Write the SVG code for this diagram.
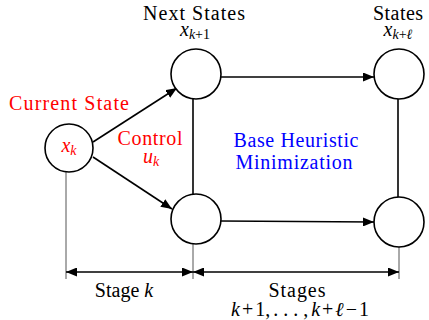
<svg xmlns="http://www.w3.org/2000/svg" width="429" height="320" viewBox="0 0 429 320">
<defs>
<marker id="ah2" viewBox="0 0 10 10" refX="10" refY="5" markerWidth="11" markerHeight="9" orient="auto-start-reverse" markerUnits="userSpaceOnUse" preserveAspectRatio="none">
<path d="M0,0 L10,5 L0,10 z" fill="#000"/>
</marker>
</defs>
<style>
.red{fill:#ff0000}
.blue{fill:#0000ff}
.it{font-style:italic}
.sub{font-size:14px;font-style:italic}
.subr{font-size:14px}
.node{fill:#fff;stroke:#000;stroke-width:1.6}
.edge{stroke:#000;stroke-width:1.6;fill:none}
.ext{stroke:#555;stroke-width:1;fill:none}
</style>
<rect width="429" height="320" fill="#fff"/>
<g id="connectors">
<line class="edge" x1="93" y1="142" x2="177" y2="88" marker-end="url(#ah2)"/>
<line class="edge" x1="93" y1="157" x2="172" y2="209" marker-end="url(#ah2)"/>
<line class="edge" x1="221" y1="77" x2="374" y2="77" marker-end="url(#ah2)"/>
<line class="edge" x1="221" y1="221" x2="374" y2="222" marker-end="url(#ah2)"/>
<line class="edge" x1="193" y1="99" x2="193" y2="195"/>
<line class="edge" x1="398" y1="99" x2="398" y2="198"/>
<line class="ext" x1="66" y1="172" x2="66" y2="279"/>
<line class="ext" x1="193" y1="244" x2="193" y2="279"/>
<line class="ext" x1="399" y1="247" x2="399" y2="279"/>
<line class="edge" x1="66" y1="272" x2="193" y2="272" marker-start="url(#ah2)" marker-end="url(#ah2)"/>
<line class="edge" x1="193" y1="272" x2="399" y2="272" marker-start="url(#ah2)" marker-end="url(#ah2)"/>
</g>
<g id="current">
<circle class="node" cx="69" cy="148" r="24"/>
<text x="69" y="152" class="red" font-family="Liberation Serif" font-size="20" text-anchor="middle"><tspan class="it">x</tspan><tspan class="sub" dy="3">k</tspan></text>
</g>
<g id="next-top">
<circle class="node" cx="196" cy="74" r="25"/>
</g>
<g id="next-bottom">
<circle class="node" cx="196" cy="219" r="25"/>
</g>
<g id="end-top">
<circle class="node" cx="399" cy="74" r="25"/>
</g>
<g id="end-bottom">
<circle class="node" cx="399" cy="222" r="25"/>
</g>
<g id="labels" font-family="Liberation Serif" font-size="20" text-anchor="middle">
<text x="69" y="110" class="red" font-family="Liberation Serif" textLength="120">Current State</text>
<text x="150" y="145" class="red" font-family="Liberation Serif" textLength="65">Control</text>
<text x="151" y="163" class="red" font-family="Liberation Serif"><tspan class="it">u</tspan><tspan class="sub" dy="3">k</tspan></text>
<text x="296" y="147" class="blue" font-family="Liberation Serif" textLength="125">Base Heuristic</text>
<text x="294" y="169" class="blue" font-family="Liberation Serif" textLength="117">Minimization</text>
<text x="194" y="20" font-family="Liberation Serif" textLength="102">Next States</text>
<text x="195" y="36" font-family="Liberation Serif"><tspan class="it">x</tspan><tspan class="sub" dy="3">k</tspan><tspan class="subr">+1</tspan></text>
<text x="398" y="20" font-family="Liberation Serif" textLength="50">States</text>
<text x="398" y="36" font-family="Liberation Serif"><tspan class="it">x</tspan><tspan class="sub" dy="3">k</tspan><tspan class="subr">+</tspan><tspan class="sub">ℓ</tspan></text>
<text x="124" y="297" font-family="Liberation Serif"><tspan>Stage </tspan><tspan class="it">k</tspan></text>
<text x="297" y="297" font-family="Liberation Serif" textLength="57">Stages</text>
<text x="300" y="316" font-family="Liberation Serif"><tspan class="it">k</tspan><tspan dx="2">+</tspan><tspan dx="2">1,</tspan><tspan dx="3">. . . ,</tspan><tspan class="it" dx="3">k</tspan><tspan dx="2">+</tspan><tspan class="it" dx="2">ℓ</tspan><tspan dx="2">−</tspan><tspan dx="2">1</tspan></text>
</g>
</svg>
